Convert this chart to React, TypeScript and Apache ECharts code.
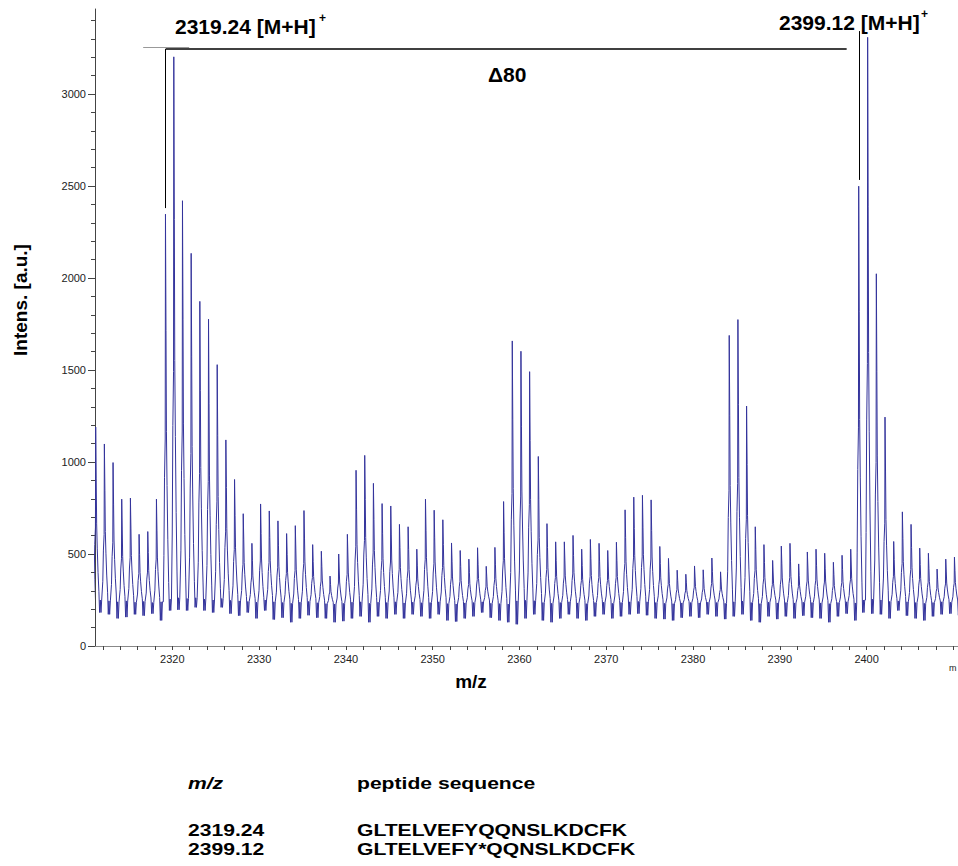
import React, { useEffect, useRef } from "react";
import * as echarts from "echarts";

// ---- data ----
const peakMz = [
  2311.2, 2312.2, 2313.2, 2314.2, 2315.2, 2316.2, 2317.2, 2318.2, 2319.24, 2320.2,
  2321.2, 2322.2, 2323.2, 2324.2, 2325.2, 2326.2, 2327.2, 2328.2, 2329.2, 2330.2,
  2331.2, 2332.2, 2333.2, 2334.2, 2335.2, 2336.2, 2337.2, 2338.2, 2339.2, 2340.2,
  2341.2, 2342.2, 2343.2, 2344.2, 2345.2, 2346.2, 2347.2, 2348.2, 2349.2, 2350.2,
  2351.2, 2352.2, 2353.2, 2354.2, 2355.2, 2356.2, 2357.2, 2358.2, 2359.2, 2360.2,
  2361.2, 2362.2, 2363.2, 2364.2, 2365.2, 2366.2, 2367.2, 2368.2, 2369.2, 2370.2,
  2371.2, 2372.2, 2373.2, 2374.2, 2375.2, 2376.2, 2377.2, 2378.2, 2379.2, 2380.2,
  2381.2, 2382.2, 2383.2, 2384.2, 2385.2, 2386.2, 2387.2, 2388.2, 2389.2, 2390.2,
  2391.2, 2392.2, 2393.2, 2394.2, 2395.2, 2396.2, 2397.2, 2398.2, 2399.12, 2400.15,
  2401.15, 2402.15, 2403.15, 2404.15, 2405.15, 2406.15, 2407.15, 2408.15, 2409.15, 2410.15,
];

const peakHeight = [
  1190, 1098, 997, 798, 804, 607, 622, 798, 2347, 3202,
  2420, 2134, 1873, 1776, 1529, 1120, 905, 719, 558, 772,
  734, 680, 611, 654, 736, 551, 515, 380, 500, 607,
  955, 1036, 884, 774, 761, 661, 648, 526, 798, 738,
  686, 560, 519, 472, 534, 433, 536, 785, 1658, 1602,
  1491, 1030, 665, 566, 566, 601, 526, 579, 558, 519,
  564, 740, 809, 819, 794, 541, 476, 412, 390, 435,
  414, 478, 403, 1688, 1774, 1304, 648, 551, 465, 543,
  558, 446, 511, 526, 504, 455, 493, 526, 2499, 3308,
  2023, 1244, 568, 729, 661, 532, 504, 418, 472, 483,
];

const valleyLow = [
  182, 172, 150, 157, 172, 165, 176, 139, 193, 197,
  193, 210, 193, 182, 210, 176, 165, 182, 150, 193,
  144, 154, 129, 150, 167, 154, 150, 129, 135, 150,
  161, 129, 161, 150, 172, 150, 172, 161, 150, 172,
  139, 133, 150, 161, 182, 154, 139, 129, 118, 150,
  172, 139, 129, 150, 172, 150, 139, 161, 172, 150,
  161, 172, 176, 167, 150, 146, 139, 154, 161, 154,
  172, 161, 146, 161, 172, 139, 129, 161, 146, 161,
  150, 165, 154, 150, 129, 161, 176, 139, 182, 176,
  172, 150, 193, 165, 150, 139, 161, 172, 176, 167,
];

const noiseHigh = [
  250, 245, 240, 245, 238, 242, 236, 240, 255, 262,
  258, 262, 255, 250, 258, 248, 245, 242, 238, 250,
  240, 236, 232, 238, 242, 235, 230, 228, 232, 238,
  240, 232, 238, 236, 240, 234, 238, 235, 236, 240,
  230, 228, 234, 236, 240, 232, 230, 228, 245, 248,
  246, 236, 232, 236, 240, 234, 230, 236, 238, 232,
  236, 240, 242, 240, 236, 232, 230, 234, 236, 234,
  238, 236, 232, 240, 244, 236, 230, 238, 234, 236,
  234, 238, 236, 234, 230, 236, 240, 234, 250, 255,
  250, 242, 245, 240, 236, 232, 236, 240, 238, 236,
];

const xTickValues = [
  2312, 2314, 2316, 2318, 2320, 2322, 2324, 2326, 2328, 2330,
  2332, 2334, 2336, 2338, 2340, 2342, 2344, 2346, 2348, 2350,
  2352, 2354, 2356, 2358, 2360, 2362, 2364, 2366, 2368, 2370,
  2372, 2374, 2376, 2378, 2380, 2382, 2384, 2386, 2388, 2390,
  2392, 2394, 2396, 2398, 2400, 2402, 2404, 2406, 2408, 2410,
];
const xLabelValues = [2320, 2330, 2340, 2350, 2360, 2370, 2380, 2390, 2400];
const yLabelValues = [0, 500, 1000, 1500, 2000, 2500, 3000];
const yMinorTickValues = [
  100, 200, 300, 400, 600, 700, 800, 900, 1100, 1200, 1300, 1400,
  1600, 1700, 1800, 1900, 2100, 2200, 2300, 2400, 2600, 2700, 2800, 2900,
  3100, 3200, 3300, 3400,
];

// annotation marks (data coordinates)
const monoLeftMz = 2319.24;
const monoRightMz = 2399.12;
const bracketEndMz = 2397.7;
const bracketLevel = 3245;
const leftDropLevel = 2380;
const rightMarkTop = 3342;
const rightMarkBottom = 2533;
const greyTickFrom = 2316.64;
const greyTickTo = 2321.94;
const greyTickLevel = 3252;

const tableHeader = ["m/z", "peptide sequence"];
const tableMz = ["2319.24", "2399.12"];
const tableSeq = ["GLTELVEFYQQNSLKDCFK", "GLTELVEFY*QQNSLKDCFK"];

// ---- rendering style: profile of one isotope peak (offset in Da, fraction of height) ----
const PEAK_SHAPE: [number, number][] = [
  [-0.28, 0],
  [-0.21, 0.12],
  [-0.14, 0.32],
  [-0.06, 0.42],
  [-0.03, 1],
  [0.0, 1],
  [0.03, 0.7],
  [0.08, 0.44],
  [0.15, 0.3],
  [0.24, 0.16],
  [0.34, 0.05],
];
const VALLEY_OFFSETS = [0.42, 0.5, 0.58, 0.66];

function buildTrace(): [number, number][] {
  const pts: [number, number][] = [];
  for (let i = 0; i < peakMz.length; i++) {
    const m = peakMz[i];
    const h = peakHeight[i];
    const base = i > 0 ? noiseHigh[i - 1] : noiseHigh[0];
    for (const [dx, f] of PEAK_SHAPE) pts.push([m + dx, base + f * (h - base)]);
    const lo = valleyLow[i];
    const hi = noiseHigh[i];
    const vals = [lo, hi, lo, hi];
    VALLEY_OFFSETS.forEach((dx, k) => pts.push([m + dx, vals[k]]));
  }
  return pts;
}

const FONT = "'Liberation Sans', Arial, Helvetica, sans-serif";
const BLUE = "#34349c";
const TABLE_FONT = 16;
const TABLE_STRETCH = 1.32;

export default function App() {
  const ref = useRef<HTMLDivElement>(null);

  useEffect(() => {
    if (!ref.current) return;
    const chart = echarts.init(ref.current, undefined, { renderer: "svg" });
    const xMin = 2311.09;
    const xMax = 2410.53;
    const yMax = 3462;

    const boldText = (text: string, x: number, y: number, size: number, extra: any = {}, el: any = {}) => ({
      type: "text",
      x,
      y,
      ...el,
      style: {
        text,
        fontFamily: FONT,
        fontWeight: "bold",
        fontSize: size,
        fill: "#000",
        verticalAlign: "middle",
        ...extra,
      },
    });
    const tableText = (text: string, x: number, y: number, extra: any = {}) =>
      boldText(text, x, y, TABLE_FONT, extra, { scaleX: TABLE_STRETCH });

    chart.setOption({
      animation: false,
      backgroundColor: "#fff",
      grid: { left: 95, top: 9, right: 0, bottom: 220, containLabel: false },
      xAxis: [
        {
          type: "value",
          min: xMin,
          max: xMax,
          position: "bottom",
          axisLine: { show: true, lineStyle: { color: "#444", width: 1 } },
          axisTick: { show: true, customValues: xTickValues, length: 4, lineStyle: { color: "#444" } },
          axisLabel: {
            customValues: xLabelValues,
            formatter: (v: number) => String(v),
            fontSize: 11,
            fontFamily: FONT,
            color: "#222",
            margin: 7,
          },
          splitLine: { show: false },
        },
        {
          type: "value",
          min: xMin,
          max: xMax,
          position: "top",
          axisLine: { show: true, lineStyle: { color: "#888", width: 1 } },
          axisTick: { show: false },
          axisLabel: { show: false },
          splitLine: { show: false },
        },
      ],
      yAxis: [
        {
          type: "value",
          min: 0,
          max: yMax,
          position: "left",
          axisLine: { show: true, lineStyle: { color: "#444", width: 1 } },
          axisTick: { show: true, customValues: yLabelValues, length: 7, lineStyle: { color: "#444" } },
          axisLabel: {
            customValues: yLabelValues,
            formatter: (v: number) => String(v),
            fontSize: 11,
            fontFamily: FONT,
            color: "#222",
            margin: 9,
          },
          splitLine: { show: false },
        },
        {
          type: "value",
          min: 0,
          max: yMax,
          position: "left",
          axisLine: { show: false },
          axisTick: { show: true, customValues: yMinorTickValues, length: 4, lineStyle: { color: "#444" } },
          axisLabel: { show: false },
          splitLine: { show: false },
        },
      ],
      series: [
        {
          type: "line",
          xAxisIndex: 0,
          yAxisIndex: 0,
          data: buildTrace(),
          showSymbol: false,
          symbol: "none",
          clip: true,
          lineStyle: { color: BLUE, width: 1 },
          emphasis: { disabled: true },
          markLine: {
            silent: true,
            symbol: ["none", "none"],
            label: { show: false },
            lineStyle: { color: "#000", width: 1, type: "solid" },
            data: [
              [
                { coord: [greyTickFrom, greyTickLevel], lineStyle: { color: "#999", width: 1, type: "solid" } },
                { coord: [greyTickTo, greyTickLevel] },
              ],
              [
                { coord: [monoLeftMz, bracketLevel], lineStyle: { color: "#000", width: 1.5, type: "solid" } },
                { coord: [bracketEndMz, bracketLevel] },
              ],
              [
                { coord: [monoLeftMz, leftDropLevel], lineStyle: { color: "#000", width: 1, type: "solid" } },
                { coord: [monoLeftMz, bracketLevel] },
              ],
              [
                { coord: [monoRightMz, rightMarkBottom], lineStyle: { color: "#000", width: 1, type: "solid" } },
                { coord: [monoRightMz, rightMarkTop] },
              ],
            ],
          },
        },
      ],
      graphic: [
        boldText("2319.24 [M+H]", 175, 26, 21),
        boldText("+", 319, 18, 12),
        boldText("2399.12 [M+H]", 779, 22, 21),
        boldText("+", 921, 14, 12),
        boldText("\u039480", 488, 74, 21),
        {
          type: "text",
          x: 20,
          y: 300,
          rotation: Math.PI / 2,
          style: {
            text: "Intens. [a.u.]",
            fontFamily: FONT,
            fontWeight: "bold",
            fontSize: 19,
            fill: "#000",
            align: "center",
            verticalAlign: "middle",
          },
        },
        boldText("m/z", 471, 681, 19, { align: "center" }),
        {
          type: "text",
          x: 949,
          y: 668,
          style: { text: "m", fontFamily: FONT, fontSize: 9, fill: "#222", verticalAlign: "middle" },
        },
        tableText(tableHeader[0], 188, 783, { fontStyle: "italic" }),
        tableText(tableHeader[1], 357, 783),
        tableText(tableMz[0], 188, 830),
        tableText(tableSeq[0], 357, 830),
        tableText(tableMz[1], 188, 849),
        tableText(tableSeq[1], 357, 849),
      ],
    });

    return () => chart.dispose();
  }, []);

  return (
    <div
      ref={ref}
      style={{ position: "absolute", left: 0, top: 0, width: 958, height: 866, background: "#fff" }}
    />
  );
}
